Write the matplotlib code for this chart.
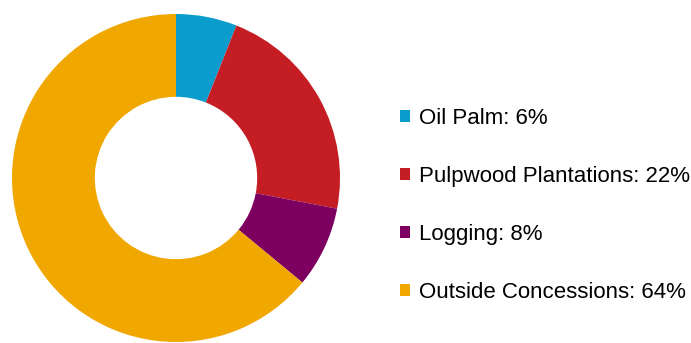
import matplotlib
matplotlib.use("Agg")
from matplotlib import pyplot as plt
from matplotlib.patches import Patch

plt.rcParams['font.family'] = ['Liberation Sans', 'DejaVu Sans']

# data
categories = ["Oil Palm", "Pulpwood Plantations", "Logging", "Outside Concessions"]
shares = [6, 22, 8, 64]
colors = ["#0a9ccc", "#c41e24", "#7d0060", "#f0a800"]

fig = plt.figure(figsize=(6.91, 3.43), dpi=100)
ax = fig.add_axes([12 / 691, 1 / 343, 328 / 691, 328 / 343])

ax.pie(shares, colors=colors, startangle=90, counterclock=False,
       wedgeprops=dict(width=0.505, linewidth=0))
ax.set_xlim(-1, 1)
ax.set_ylim(-1, 1)
ax.set_aspect("equal")

handles = [Patch(facecolor=c, edgecolor="none") for c in colors]
labels = ["%s: %d%%" % (n, v) for n, v in zip(categories, shares)]
fig.legend(handles, labels, loc="center left", bbox_to_anchor=(400 / 691, 0.401),
           frameon=False, fontsize=16, handlelength=0.45, handleheight=0.45,
           handletextpad=0.4, labelspacing=1.67, borderpad=0, borderaxespad=0)

fig.savefig("out.png", dpi=100)
